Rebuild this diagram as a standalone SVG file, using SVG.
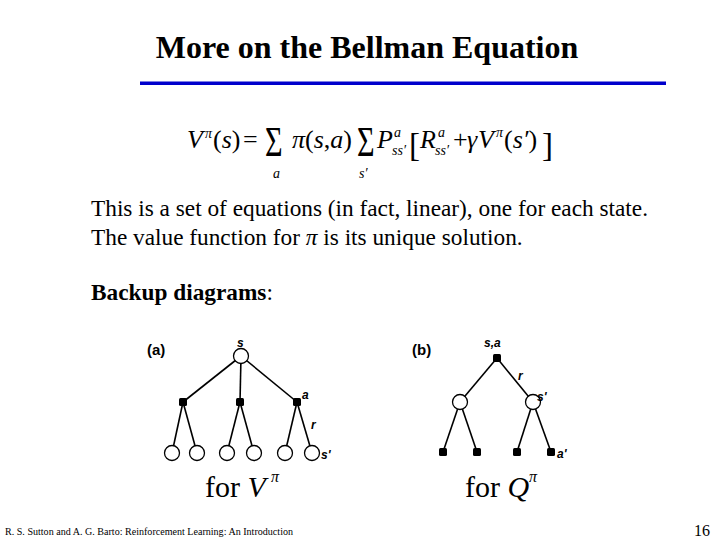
<svg xmlns="http://www.w3.org/2000/svg" width="720" height="540" viewBox="0 0 720 540">
<style>
.serif{font-family:"Liberation Serif","Times New Roman",serif;fill:#000}
.it{font-style:italic}
.eq{font-family:"Liberation Serif","Times New Roman",serif;font-size:26px;fill:#000}
.sm{font-size:14px}
.sig{font-family:"Liberation Serif","Times New Roman",serif;font-size:42px;font-style:normal}
.lbl{font-family:"Liberation Sans",Arial,sans-serif;font-weight:bold;font-style:italic;font-size:12px;fill:#000}
.tag{font-family:"Liberation Sans",Arial,sans-serif;font-weight:bold;font-size:15px;fill:#000}
.edge{stroke:#000;stroke-width:1.6;fill:none}
.open{fill:#fff;stroke:#000;stroke-width:1.3}
.dot{fill:#000}
</style>
<rect width="720" height="540" fill="#fff"/>
<g id="title">
<text class="serif" x="367" y="58" font-size="32" font-weight="bold" text-anchor="middle">More on the Bellman Equation</text>
<rect x="140" y="81.5" width="526" height="3.5" fill="#0000cc"/>
</g>
<g id="equation" class="eq">
<text x="187" y="148"><tspan class="it">V</tspan><tspan class="it sm" x="205" y="138">π</tspan><tspan x="213" y="148">(</tspan><tspan class="it">s</tspan>)</text>
<text x="243" y="148">=</text>
<text class="sig" transform="translate(265,156) scale(0.72,1)">Σ</text>
<text x="273" y="178" class="it" font-size="14">a</text>
<text x="292" y="148"><tspan class="it">π</tspan>(<tspan class="it">s</tspan>,<tspan class="it">a</tspan>)</text>
<text class="sig" transform="translate(357,156) scale(0.72,1)">Σ</text>
<text x="359" y="178" class="it" font-size="14">s′</text>
<text x="377" y="148"><tspan class="it">P</tspan><tspan class="it sm" x="394" y="137">a</tspan><tspan class="it sm" x="392" y="155">ss′</tspan></text>
<text x="409" y="156" font-size="33">[</text>
<text x="420" y="148"><tspan class="it">R</tspan><tspan class="it sm" x="438" y="137">a</tspan><tspan class="it sm" x="435" y="155">ss′</tspan></text>
<text x="453" y="148">+</text>
<text x="467" y="148"><tspan class="it">γ</tspan><tspan class="it" x="478">V</tspan><tspan class="it sm" x="496" y="137">π</tspan><tspan x="504" y="148">(</tspan><tspan class="it">s′</tspan>)</text>
<text x="542" y="156" font-size="33">]</text>
</g>
<g id="body" class="serif" font-size="23.3">
<text x="91" y="216">This is a set of equations (in fact, linear), one for each state.</text>
<text x="91" y="245">The value function for <tspan class="it">π</tspan>  is its unique solution.</text>
<text x="91" y="300"><tspan font-weight="bold">Backup diagrams</tspan>:</text>
</g>
<g id="diagram-a">
<g id="connectors-a" class="edge">
<line x1="241" y1="356" x2="183" y2="402"/>
<line x1="241" y1="356" x2="240" y2="402"/>
<line x1="241" y1="356" x2="297" y2="402"/>
<line x1="183" y1="402" x2="172" y2="453"/>
<line x1="183" y1="402" x2="197" y2="453"/>
<line x1="240" y1="402" x2="227" y2="453"/>
<line x1="240" y1="402" x2="254" y2="453"/>
<line x1="297" y1="402" x2="285" y2="453"/>
<line x1="297" y1="402" x2="312" y2="453"/>
</g>
<g id="a-root"><circle class="open" cx="241" cy="356" r="7.5"/></g>
<g id="a-act1"><rect class="dot" x="179" y="398" width="8" height="8" rx="1.5"/></g>
<g id="a-act2"><rect class="dot" x="236" y="398" width="8" height="8" rx="1.5"/></g>
<g id="a-act3"><rect class="dot" x="293" y="398" width="8" height="8" rx="1.5"/></g>
<g id="a-leaf1"><circle class="open" cx="172" cy="453" r="7.5"/></g>
<g id="a-leaf2"><circle class="open" cx="197" cy="453" r="7.5"/></g>
<g id="a-leaf3"><circle class="open" cx="227" cy="453" r="7.5"/></g>
<g id="a-leaf4"><circle class="open" cx="254" cy="453" r="7.5"/></g>
<g id="a-leaf5"><circle class="open" cx="285" cy="453" r="7.5"/></g>
<g id="a-leaf6"><circle class="open" cx="312" cy="453" r="7.5"/></g>
<text class="tag" x="147" y="355">(a)</text>
<text class="lbl" x="237" y="347">s</text>
<text class="lbl" x="302" y="399">a</text>
<text class="lbl" x="311" y="429">r</text>
<text class="lbl" x="321" y="459">s'</text>
<text class="serif" x="205" y="497" font-size="30">for <tspan class="it">V</tspan><tspan class="it" x="271" y="482" font-size="16">π</tspan></text>
</g>
<g id="diagram-b">
<g id="connectors-b" class="edge">
<line x1="497" y1="358" x2="460" y2="402"/>
<line x1="497" y1="358" x2="533" y2="402"/>
<line x1="460" y1="402" x2="443" y2="452"/>
<line x1="460" y1="402" x2="477" y2="452"/>
<line x1="533" y1="402" x2="517" y2="452"/>
<line x1="533" y1="402" x2="551" y2="452"/>
</g>
<g id="b-root"><rect class="dot" x="493" y="354" width="8" height="8" rx="1.5"/></g>
<g id="b-s1"><circle class="open" cx="460" cy="402" r="7.5"/></g>
<g id="b-s2"><circle class="open" cx="533" cy="402" r="7.5"/></g>
<g id="b-leaf1"><rect class="dot" x="439" y="448" width="8" height="8" rx="1.5"/></g>
<g id="b-leaf2"><rect class="dot" x="473" y="448" width="8" height="8" rx="1.5"/></g>
<g id="b-leaf3"><rect class="dot" x="513" y="448" width="8" height="8" rx="1.5"/></g>
<g id="b-leaf4"><rect class="dot" x="547" y="448" width="8" height="8" rx="1.5"/></g>
<text class="tag" x="412" y="355">(b)</text>
<text class="lbl" x="484" y="347">s,a</text>
<text class="lbl" x="518" y="380">r</text>
<text class="lbl" x="537" y="401">s'</text>
<text class="lbl" x="557" y="458">a'</text>
<text class="serif" x="465" y="497" font-size="30">for <tspan class="it">Q</tspan><tspan class="it" x="529" y="482" font-size="16">π</tspan></text>
</g>
<g id="footer" class="serif">
<text x="5" y="535" font-size="10.5" textLength="288" lengthAdjust="spacingAndGlyphs">R. S. Sutton and A. G. Barto: Reinforcement Learning: An Introduction</text>
<text x="710" y="536" font-size="16" text-anchor="end">16</text>
</g>
</svg>
